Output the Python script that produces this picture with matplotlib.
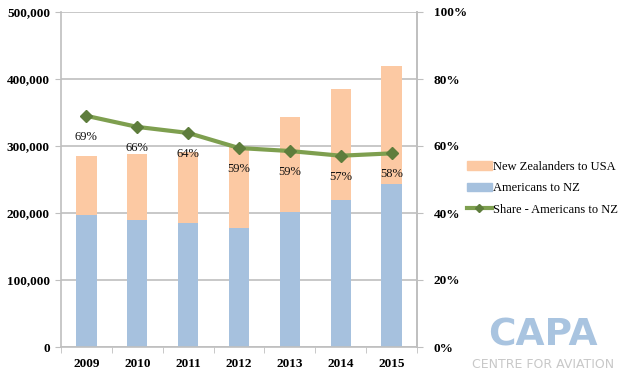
import numpy as np
import matplotlib.pyplot as plt
from matplotlib.patches import Patch
from matplotlib.lines import Line2D
from matplotlib.ticker import FuncFormatter

years = ['2009', '2010', '2011', '2012', '2013', '2014', '2015']
americans_to_nz = [197500, 189500, 185000, 177500, 201500, 219500, 243500]
nz_to_usa = [87500, 98500, 106000, 120500, 141500, 165500, 176000]
share_labels = ['69%', '66%', '64%', '59%', '59%', '57%', '58%']
share = [0.69, 0.657, 0.639, 0.594, 0.585, 0.571, 0.578]

c_blue = '#A6C1DE'
c_peach = '#FCC9A3'
c_line = '#7E9F4F'
c_mark = '#5E7D3C'
grid_c = '#BFBFBF'

plt.rcParams['font.family'] = ['Liberation Serif', 'DejaVu Serif']

fig = plt.figure(figsize=(6.3, 3.76), dpi=100)
fig.subplots_adjust(left=61/630, right=417/630, top=1-12/376, bottom=1-347/376)
ax = fig.add_subplot(111)
x = np.arange(len(years))

ax.bar(x, americans_to_nz, width=0.4, color=c_blue, zorder=2)
ax.bar(x, nz_to_usa, width=0.4, bottom=americans_to_nz, color=c_peach, zorder=2)

ax.set_xlim(-0.5, len(years) - 0.5)
ax.set_ylim(0, 500000)
ax.set_yticks(np.arange(0, 500001, 100000))
ax.yaxis.set_major_formatter(FuncFormatter(lambda v, p: '{:,.0f}'.format(v)))
ax.yaxis.grid(True, color=grid_c, linewidth=1.2)
ax.set_axisbelow(True)
ax.set_xticks(x)
ax.set_xticklabels(years)
ax.set_xticks(np.arange(-0.5, len(years)), minor=True)
ax.tick_params(axis='x', which='major', length=0, pad=8)
ax.tick_params(axis='x', which='minor', length=4, color=grid_c, direction='out')
ax.tick_params(axis='y', length=4, color=grid_c, direction='out', pad=4)
for lab in ax.get_xticklabels() + ax.get_yticklabels():
    lab.set_fontweight('bold')
    lab.set_fontsize(9.5)
ax.spines['top'].set_visible(False)
for side in ['left', 'bottom', 'right']:
    ax.spines[side].set_color(grid_c)
    ax.spines[side].set_linewidth(1.2)

ax2 = ax.twinx()
ax2.plot(x, share, color=c_line, linewidth=3, marker='D', markersize=6,
         markerfacecolor=c_mark, markeredgecolor=c_mark, zorder=3)
ax2.set_ylim(0, 1)
ax2.set_yticks(np.arange(0, 1.01, 0.2))
ax2.yaxis.set_major_formatter(FuncFormatter(lambda v, p: '{:.0f}%'.format(v * 100)))
ax2.tick_params(axis='y', length=4, color=grid_c, direction='out', pad=8)
for lab in ax2.get_yticklabels():
    lab.set_fontweight('bold')
    lab.set_fontsize(9.5)
for side in ['top', 'left', 'bottom']:
    ax2.spines[side].set_visible(False)
ax2.spines['right'].set_color(grid_c)
ax2.spines['right'].set_linewidth(1.2)

for xi, s, lab in zip(x, share, share_labels):
    ax2.annotate(lab, (xi, s), xytext=(0, -15), textcoords='offset points',
                 ha='center', va='center', fontsize=9, color='#111111')

handles = [Patch(color=c_peach), Patch(color=c_blue),
           Line2D([0], [0], color=c_line, linewidth=3, marker='D', markersize=4,
                  markerfacecolor=c_mark, markeredgecolor=c_mark)]
labels = ['New Zealanders to USA', 'Americans to NZ', 'Share - Americans to NZ']
fig.legend(handles, labels, loc='upper left', bbox_to_anchor=(462/630, 1-156/376),
           frameon=False, fontsize=9, handlelength=2.0, handleheight=0.7,
           handletextpad=0.1, labelspacing=0.75, borderaxespad=0)

# logo
fig.text(543/630, 1-335/376, 'CAPA', family='DejaVu Sans', fontweight='bold',
         fontsize=27, color='#A9C4E0', ha='center', va='center')
fig.text(543/630, 1-365/376, 'CENTRE FOR AVIATION', family='DejaVu Sans',
         fontsize=9, color='#C8C8C8', ha='center', va='center')

fig.savefig('out.png', dpi=100)
